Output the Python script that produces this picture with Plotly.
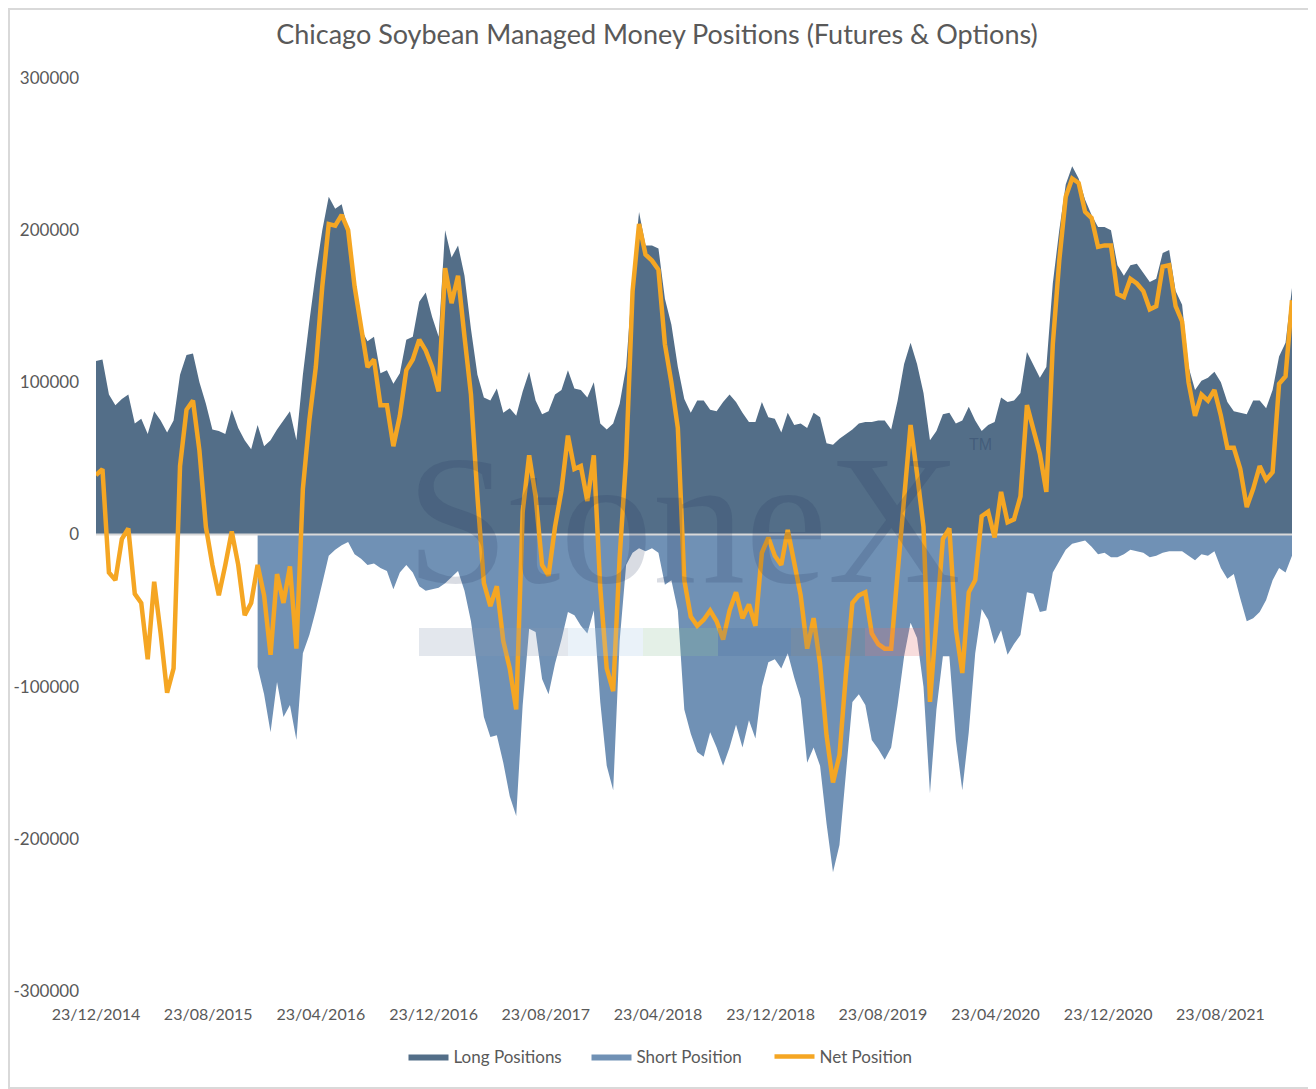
import pandas as pd
import plotly.graph_objects as go

# COT weekly report, sampled every second Tuesday (thousand contracts)
dates = pd.date_range("2014-12-23", periods=186, freq="14D")

long_k = [114, 115, 92, 85, 89, 92, 73, 76, 66, 81,
          75, 67, 75, 105, 118, 119, 100, 86, 69, 68,
          66, 82, 70, 62, 56, 72, 58, 62, 69, 75,
          81, 62, 105, 140, 172, 200, 222, 214, 217, 200,
          165, 135, 127, 130, 106, 108, 99, 106, 128, 130,
          153, 159, 143, 130, 200, 182, 190, 170, 135, 105,
          90, 88, 96, 80, 83, 78, 94, 107, 88, 79,
          81, 92, 95, 108, 96, 95, 90, 100, 73, 69,
          73, 86, 110, 168, 212, 190, 190, 188, 155, 138,
          110, 89, 80, 88, 88, 82, 81, 87, 92, 87,
          80, 74, 74, 87, 77, 76, 67, 80, 72, 73,
          70, 80, 77, 60, 59, 63, 66, 69, 73, 74,
          74, 75, 75, 69, 88, 112, 126, 112, 93, 62,
          68, 79, 80, 73, 75, 84, 75, 68, 72, 74,
          90, 87, 88, 93, 120, 111, 103, 110, 165, 200,
          230, 242, 234, 220, 210, 202, 202, 200, 177, 170,
          177, 178, 172, 166, 168, 185, 187, 160, 151, 110,
          95, 101, 103, 107, 100, 87, 81, 80, 79, 88,
          88, 83, 95, 117, 126, 162]

# short positions are only plotted from the 25th sample on
short_start = 25
short_k = [-87, -105, -130, -97, -120, -112, -135, -78, -66, -50,
           -32, -14, -10, -7, -5, -13, -16, -20, -19, -22,
           -24, -36, -25, -20, -25, -34, -37, -36, -35, -32,
           -28, -24, -37, -57, -88, -120, -133, -132, -150, -172,
           -185, -112, -62, -64, -95, -105, -85, -69, -51, -53,
           -60, -65, -50, -110, -152, -168, -70, -20, -12, -9,
           -11, -9, -12, -33, -30, -50, -115, -131, -143, -146,
           -130, -140, -152, -140, -125, -140, -122, -134, -100, -84,
           -82, -88, -78, -94, -108, -150, -140, -152, -190, -222,
           -204, -158, -110, -105, -112, -135, -141, -148, -140, -112,
           -80, -58, -68, -100, -170, -115, -80, -80, -135, -168,
           -130, -78, -49, -56, -72, -63, -79, -72, -66, -38,
           -39, -51, -50, -25, -17, -10, -6, -5, -4, -8,
           -13, -12, -15, -15, -13, -10, -11, -12, -15, -14,
           -12, -11, -11, -11, -14, -17, -13, -14, -11, -22,
           -29, -26, -42, -57, -55, -51, -43, -30, -22, -25,
           -14]

net_k = [39, 43, -25, -30, -3, 4, -39, -45, -82, -31,
         -65, -104, -88, 45, 82, 88, 55, 5, -20, -40,
         -20, 2, -20, -53, -45, -20, -40, -79, -26, -45,
         -21, -75, 30, 75, 110, 163, 204, 203, 210, 200,
         163, 138, 110, 115, 85, 85, 58, 78, 108, 115,
         128, 121, 110, 94, 175, 152, 170, 130, 92, 25,
         -32, -47, -34, -70, -88, -115, 15, 52, 25, -20,
         -27, 5, 29, 65, 43, 45, 22, 52, -35, -88,
         -103, -15, 50, 160, 204, 184, 180, 174, 125, 100,
         70, -30, -54, -60, -56, -50, -57, -69, -50, -38,
         -55, -46, -60, -12, -2, -14, -20, 3, -18, -40,
         -75, -55, -85, -132, -163, -145, -92, -45, -40, -38,
         -65, -72, -75, -75, -25, 20, 72, 40, 5, -110,
         -60, -3, 4, -62, -91, -38, -30, 12, 15, -2,
         28, 8, 10, 25, 85, 68, 53, 28, 125, 180,
         222, 234, 231, 212, 208, 189, 190, 190, 158, 156,
         168, 165, 160, 148, 150, 176, 177, 150, 140, 100,
         78, 92, 88, 95, 78, 57, 57, 43, 18, 30,
         45, 36, 41, 99, 104, 154]

tick_dates = ["2014-12-23", "2015-08-23", "2016-04-23", "2016-12-23",
              "2017-08-23", "2018-04-23", "2018-12-23", "2019-08-23",
              "2020-04-23", "2020-12-23", "2021-08-23"]
tick_text = ["23/12/2014", "23/08/2015", "23/04/2016", "23/12/2016",
             "23/08/2017", "23/04/2018", "23/12/2018", "23/08/2019",
             "23/04/2020", "23/12/2020", "23/08/2021"]
y_ticks = [-300000, -200000, -100000, 0, 100000, 200000, 300000]
y_text = ["-300000", "-200000", "-100000", "0", "100000", "200000", "300000"]

long_pos = [v * 1000 for v in long_k]
short_pos = [v * 1000 for v in short_k]
net_pos = [v * 1000 for v in net_k]

font = "Lato, Carlito, sans-serif"
grey = "#595959"

fig = go.Figure()
fig.add_trace(go.Scatter(x=dates, y=long_pos, name="Long Positions", mode="lines",
                         line=dict(width=0, color="#536E88"), fill="tozeroy",
                         fillcolor="#536E88"))
fig.add_trace(go.Scatter(x=dates[short_start:], y=short_pos, name="Short Position",
                         mode="lines", line=dict(width=0, color="#7091B5"),
                         fill="tozeroy", fillcolor="#7091B5"))
# horizontal axis line at zero, drawn above the areas
fig.add_trace(go.Scatter(x=[dates[0], dates[-1]], y=[0, 0], mode="lines",
                         line=dict(width=2, color="#D9D9D9"), showlegend=False,
                         hoverinfo="skip"))
fig.add_trace(go.Scatter(x=dates, y=net_pos, name="Net Position", mode="lines",
                         line=dict(width=4.5, color="#F5A623")))

# plot area: 96..1292 x 78..991 in the page (page has an 8px body margin)
def px(x):
    return (x - 96) / 1196

def py(y):
    return (991 - y) / 913

# faint StoneX watermark
fig.add_annotation(text="StoneX", xref="paper", yref="paper", x=px(683), y=py(519),
                   showarrow=False, borderpad=0,
                   font=dict(family="Liberation Serif, serif", size=185,
                             color="rgba(30,50,90,0.17)"))
fig.add_annotation(text="TM", xref="paper", yref="paper", x=px(968), y=py(444),
                   xanchor="left", showarrow=False, borderpad=0,
                   font=dict(family="Liberation Sans", size=16,
                             color="rgba(30,50,90,0.3)"))
strip = [(419, 568, "#8A9BB5"), (568, 643, "#A9C8E8"), (643, 718, "#8FBF9A"),
         (718, 791, "#4A6FA5"), (791, 865, "#7F7F7F"), (865, 923, "#E07070")]
for a, b, c in strip:
    fig.add_shape(type="rect", xref="paper", yref="paper",
                  x0=px(a), x1=px(b), y0=py(656), y1=py(628),
                  fillcolor=c, opacity=0.24, line=dict(width=0), layer="above")

# chart border
fig.add_shape(type="rect", xref="paper", yref="paper",
              x0=px(9), x1=px(1315), y0=py(1088), y1=py(9),
              line=dict(color="#D9D9D9", width=2))

fig.update_layout(
    width=1308, height=1081,
    margin=dict(l=88, r=24, t=70, b=98),
    paper_bgcolor="white", plot_bgcolor="white",
    font=dict(family=font, color=grey, size=17),
    title=dict(text="Chicago Soybean Managed Money Positions (Futures & Options)",
               x=649 / 1308, xref="container", y=1 - 27 / 1081, yref="container",
               xanchor="center", yanchor="middle",
               font=dict(size=27, color=grey, family=font)),
    legend=dict(orientation="h", xref="container", x=670 / 1308, xanchor="center",
                yref="container", y=1 - 1049 / 1081, yanchor="middle",
                font=dict(size=17, color=grey), itemwidth=40,
                entrywidth=128, entrywidthmode="pixels"),
    showlegend=True,
    hovermode=False,
)
fig.update_xaxes(range=[dates[0], dates[-1]], tickvals=tick_dates, ticktext=tick_text,
                 showgrid=False, showline=False, zeroline=False, ticks="",
                 tickfont=dict(size=16, color=grey), ticklabelstandoff=12,
                 automargin=False)
fig.update_yaxes(range=[-300000, 300000], tickvals=y_ticks, ticktext=y_text,
                 showgrid=False, showline=False, zeroline=False, ticks="",
                 tickfont=dict(size=17, color=grey), ticklabelstandoff=16,
                 automargin=False)

fig.write_html("out.html")
